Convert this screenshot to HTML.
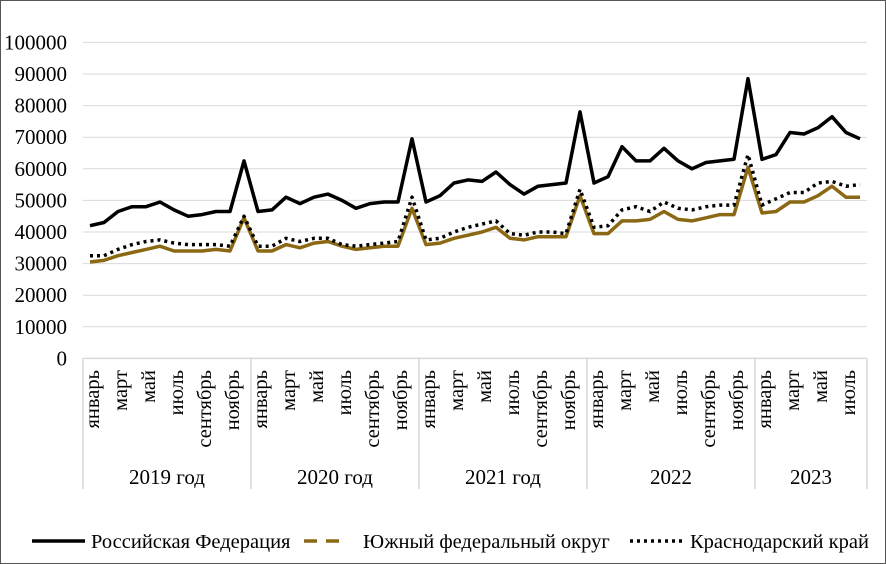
<!DOCTYPE html>
<html><head><meta charset="utf-8"><style>
html,body{margin:0;padding:0;background:#fff}
svg{display:block;font-family:"Liberation Serif",serif}
</style></head><body>
<svg id="chart" width="886" height="564" viewBox="0 0 886 564">
<rect x="0.5" y="0.5" width="885" height="563" fill="#fff" stroke="#555"/>
<g id="grid"></g>
<g id="yaxis"></g>
<g id="xaxis"></g>
<g id="series"></g>
<g id="legend" font-size="20.5">
<g>
<line x1="32" y1="541" x2="85" y2="541" stroke="#000" stroke-width="3.5"/>
<text x="91" y="548">Российская Федерация</text></g>
<g>
<line x1="304" y1="541" x2="346" y2="541" stroke="#8b6914" stroke-width="3.5" stroke-dasharray="13,9"/>
<text x="363" y="548">Южный федеральный округ</text></g>
<g>
<line x1="630" y1="541" x2="682" y2="541" stroke="#000" stroke-width="3.5" stroke-dasharray="3,4"/>
<text x="690" y="548">Краснодарский край</text></g>
</g>
</svg>
<script>
const years = ["2019 год","2020 год","2021 год","2022","2023"];
const yearCounts = [12,12,12,12,8];
const months = ["январь","февраль","март","апрель","май","июнь","июль","август","сентябрь","октябрь","ноябрь","декабрь"];
const yTicks = [0,10000,20000,30000,40000,50000,60000,70000,80000,90000,100000];
const rfValues = [42000,43000,46500,48000,48000,49500,47000,45000,45500,46500,46500,62500,
46500,47000,51000,49000,51000,52000,50000,47500,49000,49500,49500,69500,
49500,51500,55500,56500,56000,59000,55000,52000,54500,55000,55500,78000,
55500,57500,67000,62500,62500,66500,62500,60000,62000,62500,63000,88500,
63000,64500,71500,71000,73000,76500,71500,69500];
const yufoValues = [30500,31000,32500,33500,34500,35500,34000,34000,34000,34500,34000,44500,
34000,34000,36000,35000,36500,37000,35500,34500,35000,35500,35500,47500,
36000,36500,38000,39000,40000,41500,38000,37500,38500,38500,38500,51500,
39500,39500,43500,43500,44000,46500,44000,43500,44500,45500,45500,60500,
46000,46500,49500,49500,51500,54500,51000,51000];
const krdValues = [32500,32500,34500,36000,37000,37500,36500,36000,36000,36000,35500,45000,
35500,35500,38000,37000,38000,38000,36000,35500,36000,36500,37000,51000,
37500,38000,40000,41500,42500,43500,39500,39000,40000,40000,39500,53500,
41500,42000,47000,48000,46500,49500,47500,47000,48000,48500,48500,64500,
48500,50500,52500,52500,55500,56000,54500,55000];

const NS="http://www.w3.org/2000/svg";
const X0=83, X1=867, Y0=358.4, Y1=42.4;
const N = yearCounts.reduce((a,b)=>a+b,0);
const step=(X1-X0)/N;
const xScale=i=>X0+step*(i+0.5);
const yScale=v=>Y0-(v/100000)*(Y0-Y1);
function mk(tag,attrs,parent){const e=document.createElementNS(NS,tag);for(const k in attrs)e.setAttribute(k,attrs[k]);parent.appendChild(e);return e;}

const grid=document.getElementById('grid'), ya=document.getElementById('yaxis'), xa=document.getElementById('xaxis'), ser=document.getElementById('series');
yTicks.forEach(t=>{
  const y=yScale(t);
  if(t>0){const l=mk('line',{x1:X0,x2:X1,y1:y,y2:y,stroke:'#d9d9d9','stroke-width':1},grid);
  
  }
  const tx=mk('text',{x:67,y:y+7,'text-anchor':'end','font-size':21},ya);
  tx.textContent=t;
  
  
});
const ax=mk('line',{x1:X0,x2:X1,y1:Y0,y2:Y0,stroke:'#d9d9d9','stroke-width':1.5},xa);


let idx=0;
years.forEach((yr,g)=>{
  const start=idx;
  const sx=X0+step*start;
  const sep=mk('line',{x1:sx,x2:sx,y1:Y0,y2:489,stroke:'#d9d9d9','stroke-width':1.5},xa);
  
  
  for(let m=0;m<yearCounts[g];m++){
    if(m%2===0){
      const x=xScale(idx);
      const t=mk('text',{x:0,y:0,'text-anchor':'end','font-size':20.5,transform:`translate(${x+9},370) rotate(-90)`},xa);
      t.textContent=months[m];
      
      
    }
    idx++;
  }
  const cx=X0+step*(start+yearCounts[g]/2);
  const yt=mk('text',{x:cx,y:484,'text-anchor':'middle','font-size':21},xa);
  yt.textContent=yr;
  
  
});
const endSep=mk('line',{x1:X1,x2:X1,y1:Y0,y2:489,stroke:'#d9d9d9','stroke-width':1.5},xa);



function line(vals,attrs,name){
  const pts=vals.map((v,i)=>xScale(i).toFixed(1)+','+yScale(v).toFixed(1)).join(' ');
  const p=mk('polyline',Object.assign({points:pts,fill:'none','stroke-linejoin':'round'},attrs),ser);
  
  
}
line(yufoValues,{stroke:'#8b6914','stroke-width':3.5},'series-yufo');
line(krdValues,{stroke:'#000','stroke-width':3.5,'stroke-dasharray':'3,4'},'series-krasnodar');
line(rfValues,{stroke:'#000','stroke-width':3.5},'series-rf');
</script>
</body></html>
